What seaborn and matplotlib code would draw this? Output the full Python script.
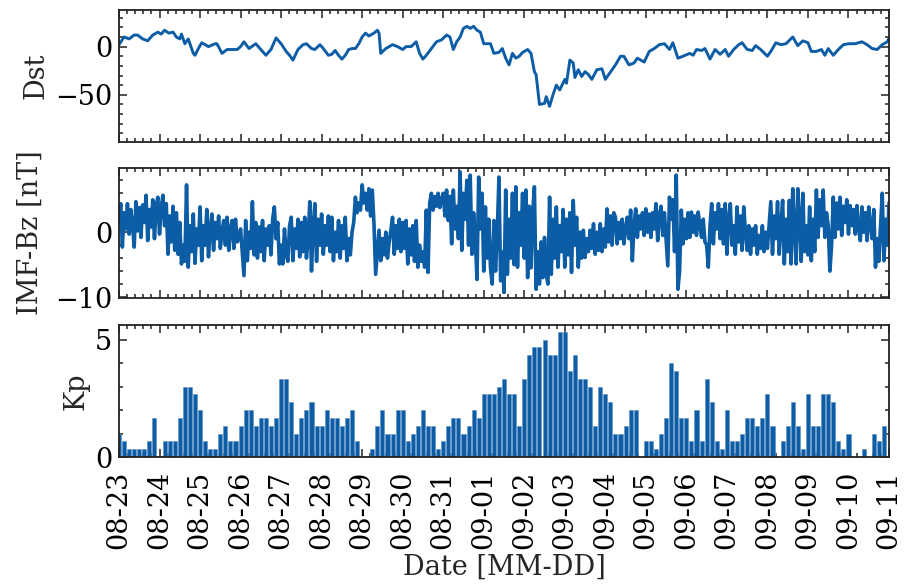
import matplotlib
matplotlib.use("Agg")
import matplotlib.pyplot as plt
import matplotlib.dates as mdates
from matplotlib.ticker import AutoMinorLocator, MultipleLocator
import numpy as np
import pandas as pd
import seaborn as sns

# ---------------------------------------------------------------- data
start = pd.Timestamp("2019-08-23 00:00")
end = pd.Timestamp("2019-09-11 00:00")

# Dst index [nT]: hours after start, value
dst_hours = [0, 3, 6, 9, 11, 14, 17, 20, 23, 25, 27, 29.5, 32, 34, 36, 37, 39, 41, 44, 45,
             47, 49, 51, 53, 57, 58, 61, 64, 67, 70, 72, 74, 77, 81, 84, 87, 90, 93, 96, 99,
             101, 103, 106, 109, 111, 114, 116, 119, 121, 124, 126, 128, 130, 132, 134, 136,
             138, 140, 142, 144, 146, 148, 151, 153, 154, 155, 158, 162, 165, 168, 170, 173,
             176, 178, 180, 182, 185, 188, 191, 194, 196, 198, 200, 202, 204, 206, 208, 210,
             212, 214, 216, 220, 222, 225, 227, 229, 231, 233, 235, 237, 239, 242, 244, 246,
             247, 249, 252, 253, 255, 257, 259, 261, 264, 265, 267, 269, 270, 272, 274, 276,
             278, 280, 283, 286, 288, 292, 294, 297, 299, 302, 305, 307, 311, 314, 317, 320,
             323, 326, 328, 331, 334, 338, 340, 342, 345, 347, 350, 353, 356, 359, 361, 364,
             367, 369, 372, 375, 377, 380, 384, 386, 389, 392, 395, 399, 402, 405, 408, 410,
             413, 416, 418, 420, 423, 426, 429, 432, 436, 440, 443, 446, 449, 452, 455, 456]
dst_nT = [2, 10, 8, 12, 12, 8, 6, 12, 15, 13, 17, 14, 15, 10, 8, 13, 3, 8, -7, -9,
          -2, 4, 2, 0, 3, 3, -7, -3, -3, -3, 0, 5, -2, 3, -3, -9, -3, 9, 3, -5,
          -9, -14, -3, 2, 3, -2, -3, 2, -2, -9, -8, -4, -9, -13, -9, -3,
          -2, -2, 3, 10, 14, 11, 14, 17, 14, -7, -2, 2, 0, -3, 0, 0,
          5, -7, -13, -9, -2, 5, 7, 12, 10, -3, 5, 10, 19, 21, 19, 21,
          17, 15, 3, 3, -7, -6, -2, -12, -19, -7, -12, -10, -6, -3, -7, -26,
          -29, -60, -59, -52, -62, -50, -40, -45, -34, -38, -14, -17, -32, -24, -31, -26,
          -29, -34, -24, -23, -34, -24, -19, -10, -10, -19, -17, -12, -16, -5, -2, 2,
          3, -3, 4, -12, -10, -7, -9, -3, -4, -2, -13, -3, -8, -3, -10, -3,
          2, 4, -3, -4, 1, -3, -10, -5, 4, 2, 3, 10, 1, 6, 4, -5,
          -5, -3, -9, -2, -9, -3, 2, 3, 3, 5, 2, -2, -3, 2, 5, 9]

# IMF Bz [nT], hourly from start
bz_nT = [
    1.5, 4.4, -2.3, 3.0, 0.5, 4.4, -0.3, 3.5, 1.0, -2.3, 4.7, 0.2, 3.8, -0.8, 4.2, 1.5, 5.7, -1.3, 3.5, 0.8, 5.0, -1.0, 4.0, 5.4,
    -0.3, 3.8, 5.7, 1.0, 4.4, -3.4, 2.5, -1.5, 4.0, -2.8, 3.0, -3.4, 1.5, -4.9, -2.0, -4.5, 7.3, -5.4, 1.0, -3.0, 2.8, -4.8, 0.5, -2.0,
    3.9, -4.4, 1.0, -2.0, 3.5, -3.8, 0.5, 2.8, -2.8, 1.5, -1.0, 2.5, -2.5, 0.0, 1.8, -2.0, 2.3, -2.8, 0.5, 1.8, -2.5, 2.0, -1.5, -1.0,
    0.5, -3.0, -6.7, 1.8, -4.4, 0.0, -2.5, 4.7, -3.5, 1.5, -4.0, 0.8, -3.0, 1.8, -4.4, 0.5, -2.0, 1.0, -3.5, 2.0, 3.9, -1.0, 1.5, -4.9,
    -2.0, -4.9, 0.5, -3.5, -4.5, 1.0, 2.3, -4.4, 0.5, -2.5, 2.0, -3.8, 1.5, -3.0, 2.3, -4.0, -1.0, 4.7, -6.0, 1.0, 4.4, -4.5, 2.0, -2.0,
    2.8, -3.4, 1.0, -2.0, 2.5, -3.0, 2.3, -4.4, 0.0, -3.0, 1.8, -4.0, 1.0, -2.5, 2.3, -4.4, -1.0, -3.5, 0.0, 1.5, 5.4, 3.0, 4.5, 3.4,
    7.3, 4.5, 6.0, 3.4, 6.7, 2.5, 6.5, 1.3, -6.5, -3.0, 0.3, -4.4, -1.0, -3.5, 0.0, -4.0, -1.5, 0.3, 2.3, -3.4, 1.0, -2.5, 2.0, -3.0,
    1.5, -2.5, 1.8, -4.9, 0.5, -3.5, 1.0, -4.5, 1.8, -5.4, -2.0, -4.5, -3.0, -5.4, 3.4, -6.2, 4.5, 6.0, 3.4, 5.5, 4.0, 6.0, 3.8, 5.0,
    6.0, 2.5, 6.5, 1.8, 5.5, -1.8, 6.5, 0.5, 4.0, -1.0, 9.3, -2.8, 6.0, 2.0, 8.0, -2.0, 8.8, -3.4, 3.0, -1.0, -7.3, 8.5, 0.5, 6.0,
    -6.0, 3.9, -4.0, 2.0, -5.5, -8.0, 1.8, -6.0, 0.0, 8.5, -7.5, -3.0, -9.3, 6.5, -6.5, 2.0, -4.0, 6.0, -5.0, 7.0, -5.4, 3.0, -2.0, 6.0,
    -4.0, 6.5, -7.0, 4.0, -5.5, 3.0, 7.0, -8.8, -3.0, -8.0, -1.5, -7.0, -0.8, -6.5, -8.0, 5.4, -6.5, 2.0, -4.0, 3.9, -5.4, 1.0, -3.0, 3.5,
    -5.4, 2.0, -3.5, 3.0, -6.2, 4.9, -2.0, 2.3, -5.4, 0.0, -4.0, 0.3, -3.9, -1.0, -3.0, 0.3, -2.5, 1.3, -3.4, 0.0, -2.8, 1.3, -3.0, 0.5,
    -2.3, 3.6, -1.5, 2.5, -2.0, 3.0, 2.3, -1.8, 1.5, -1.0, 2.0, -1.8, 0.5, 2.3, -1.0, 3.4, -4.4, 1.0, 3.6, -0.8, 2.5, 0.5, 3.0, -0.5,
    3.6, 0.0, 2.8, -0.8, 3.0, 0.5, 4.4, -1.3, 2.5, 4.0, -0.5, 3.0, -1.0, -5.2, 5.4, 2.0, 5.0, -3.0, 8.8, -8.8, -6.0, 3.4, -1.8, 2.0,
    -1.0, 3.0, -0.8, 3.1, 0.0, 2.5, -0.5, 3.1, 1.0, -0.8, 2.0, -1.5, -2.0, -5.4, 1.0, 4.4, -1.8, 3.0, 0.5, 4.4, -1.0, 3.5, -1.8, 4.4,
    -3.4, 2.0, 4.4, -2.0, 1.0, -3.4, 3.9, -1.5, 2.5, -2.8, 3.9, 0.0, -2.8, 1.0, -3.4, 0.5, -2.0, 1.0, -3.4, -0.5, -2.5, 1.0, -3.0, 0.0,
    -2.5, 1.0, 4.7, -3.4, 2.5, -1.0, 4.7, -3.4, 1.0, 4.9, -4.9, 2.0, -3.0, 4.9, -4.9, 6.7, 0.5, -4.9, 6.7, 2.0, -4.5, 6.0, -3.0, 1.0,
    -3.5, 3.9, -4.4, 2.0, -3.0, 6.5, -0.8, 5.0, 1.0, 6.5, -0.8, 3.0, 1.0, -6.0, -2.0, 5.4, -0.8, 4.5, 0.5, 5.4, -0.5, 4.0, 1.5, 5.0,
    -0.3, 4.1, 1.0, 3.5, -0.3, 4.1, 0.5, -1.3, 3.9, 0.0, 3.0, -1.3, 3.9, 1.0, -1.0, 3.5, -5.4, -1.0, -4.5, 1.0, 6.0, -4.4, 2.0, -2.0,
    4.5,
]

# Kp index, 3-hourly from start
kp = [1.0, 0.67, 0.33, 0.33, 0.33, 0.33, 0.67, 1.67,
      0, 0.67, 0.67, 0.67, 1.67, 3.0, 3.0, 2.67,
      2.0, 0.67, 0.33, 0.33, 1.0, 1.33, 0.67, 0.67,
      1.33, 2.0, 2.0, 1.33, 1.67, 1.67, 1.33, 1.67,
      3.33, 3.33, 2.33, 1.0, 1.67, 2.0, 2.33, 1.33,
      1.33, 2.0, 1.67, 1.67, 1.33, 1.67, 2.0, 0.67,
      0, 0, 0.33, 1.33, 2.0, 1.0, 1.0, 2.0,
      2.0, 0.67, 1.0, 1.33, 2.0, 1.33, 1.33, 0.33,
      0.67, 1.33, 1.67, 1.67, 1.0, 1.33, 2.0, 1.67,
      2.67, 2.67, 2.67, 3.0, 3.33, 2.67, 2.67, 1.33,
      3.33, 4.33, 4.67, 4.67, 5.0, 4.33, 4.33, 5.33,
      5.33, 3.67, 4.33, 3.33, 3.33, 3.0, 1.33, 3.0,
      2.67, 2.33, 1.0, 1.0, 1.33, 2.0, 2.0, 0,
      0.67, 0.67, 0.33, 1.0, 1.67, 4.0, 3.67, 1.67,
      1.67, 0.67, 2.0, 0.67, 3.33, 2.33, 0.67, 0.33,
      2.0, 0.67, 0.67, 1.0, 1.67, 1.67, 1.33, 1.67,
      2.67, 1.33, 0, 0.67, 1.33, 2.33, 1.33, 0.33,
      2.67, 1.33, 1.33, 2.67, 2.67, 2.33, 0.67, 0.33,
      1.0, 0, 0, 0.33, 0, 1.0, 0.67, 1.33]

# ---------------------------------------------------------------- frames
dst_df = pd.DataFrame({"time": start + pd.to_timedelta(dst_hours, unit="h"),
                       "Dst": dst_nT})
bz_df = pd.DataFrame({"time": start + pd.to_timedelta(np.arange(len(bz_nT)), unit="h"),
                      "Bz": bz_nT})
kp_df = pd.DataFrame({"time": start + pd.to_timedelta(3 * np.arange(len(kp)), unit="h"),
                      "Kp": kp})

# ---------------------------------------------------------------- style
sns.set_theme(style="ticks")
FS = 19.5
plt.rcParams.update({
    "font.family": ["DejaVu Serif"],
    "mathtext.fontset": "dejavuserif",
    "font.size": FS,
    "axes.linewidth": 1.3,
    "axes.edgecolor": "#222222",
    "xtick.color": "#222222",
    "ytick.color": "#222222",
    "xtick.labelcolor": "black",
    "ytick.labelcolor": "black",
})
BLUE = "#0C5DA5"

fig = plt.figure(figsize=(9.10, 5.84), dpi=100)
left, width = 119 / 910, 770 / 910
ax1 = fig.add_axes([left, 1 - 142 / 584, width, 132 / 584])
ax2 = fig.add_axes([left, 1 - 298 / 584, width, 130 / 584])
ax3 = fig.add_axes([left, 1 - 457 / 584, width, 132 / 584])

sns.lineplot(data=dst_df, x="time", y="Dst", ax=ax1, color=BLUE, lw=2.1)
sns.lineplot(data=bz_df, x="time", y="Bz", ax=ax2, color=BLUE, lw=2.6)
ax3.bar(kp_df["time"], kp_df["Kp"], width=0.1, color=BLUE, edgecolor="#5b8fc4",
        linewidth=0.4)

ax1.set_ylim(-99, 38)
ax1.yaxis.set_major_locator(MultipleLocator(50))
ax1.yaxis.set_minor_locator(MultipleLocator(10))
ax2.set_ylim(-10.15, 9.9)
ax2.yaxis.set_major_locator(MultipleLocator(10))
ax2.yaxis.set_minor_locator(MultipleLocator(2))
ax3.set_ylim(0, 5.62)
ax3.yaxis.set_major_locator(MultipleLocator(5))
ax3.yaxis.set_minor_locator(MultipleLocator(1))

for ax in (ax1, ax2, ax3):
    ax.set_xlim(start, end)
    ax.xaxis.set_major_locator(mdates.DayLocator())
    ax.xaxis.set_major_formatter(mdates.DateFormatter("%m-%d"))
    ax.xaxis.set_minor_locator(AutoMinorLocator(5))
    ax.tick_params(which="both", direction="in", top=True, right=True, width=1.1)
    ax.tick_params(which="major", length=5.5, labelsize=FS, pad=5)
    ax.tick_params(which="minor", length=2.8)
    ax.set_xlabel("")

ax1.tick_params(labelbottom=False)
ax2.tick_params(labelbottom=False)
ax3.tick_params(axis="x", which="major", pad=10)
for lbl in ax3.get_xticklabels():
    lbl.set_rotation(90)

ax1.set_ylabel("Dst", fontsize=FS)
ax2.set_ylabel("IMF-Bz [nT]", fontsize=FS, labelpad=8)
ax3.set_ylabel("Kp", fontsize=FS)
ax3.set_xlabel("Date [MM-DD]", fontsize=FS, labelpad=3)

fig.savefig("out.png", dpi=100)
